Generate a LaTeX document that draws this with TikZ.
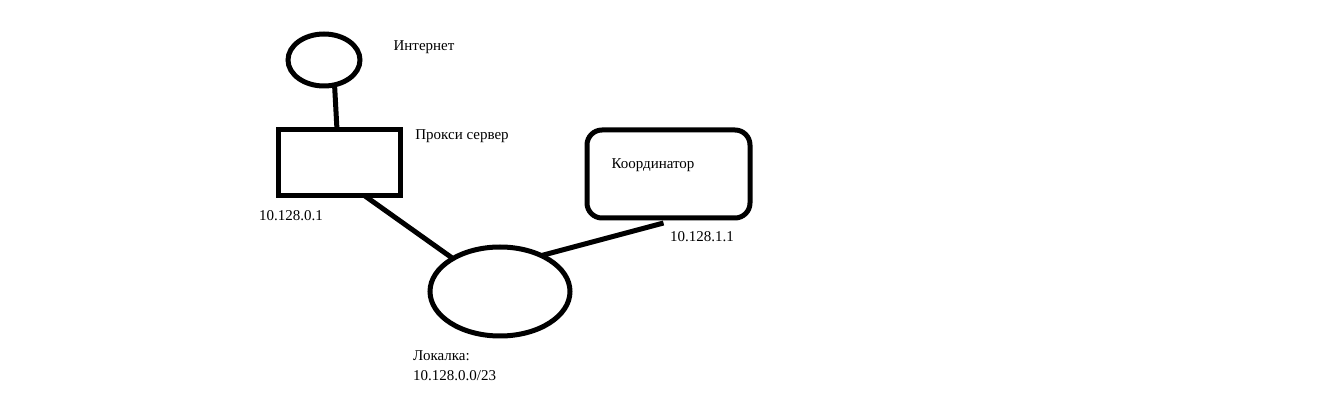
\documentclass[tikz,border=0pt]{standalone}
\usepackage{fontspec}
\setmainfont{Liberation Serif}
\usetikzlibrary{shapes.geometric}
\begin{document}
\begin{tikzpicture}[x=1pt,y=-1pt,
  shp/.style={draw=black,line width=5pt,inner sep=0pt,outer sep=0pt},
  oval/.style={shp,ellipse},
  box/.style={shp,rectangle},
  conn/.style={draw=black,line width=5pt},
  lbl/.style={font=\fontsize{15}{20}\selectfont,inner sep=0pt,text=black}]
\fill[white] (0,0) rectangle (1338,411);
\useasboundingbox (0,0) rectangle (1338,411);
\node[oval,minimum width=72pt,minimum height=52pt] (inet) at (324,60) {};
\node[box,minimum width=122pt,minimum height=66pt] (proxy) at (339,163) {};
\node[oval,minimum width=140pt,minimum height=89pt] (lan) at (500,291.5) {};
\node[box,rounded corners=15pt,minimum width=163pt,minimum height=88pt] (coord) at (668.5,174) {};
\node[lbl] (tinet) at (424,47) {Интернет};
\node[lbl] (tproxy) at (462,136) {Прокси сервер};
\node[lbl] (tpip) at (291,216) {10.128.0.1};
\node[lbl] (tcoord) at (653,165) {Координатор};
\node[lbl] (tcip) at (702,237) {10.128.1.1};
\node[lbl,align=left,anchor=north west] (tlan) at (413,350) {Локалка:\\10.128.0.0/23};
\draw[conn] (inet.-67) -- ([xshift=-2pt]proxy.north);
\draw[conn] ([xshift=26pt]proxy.south) -- (lan.145);
\draw[conn] (lan.41) -- ([xshift=-5pt,yshift=-5pt]coord.south);
\end{tikzpicture}
\end{document}
